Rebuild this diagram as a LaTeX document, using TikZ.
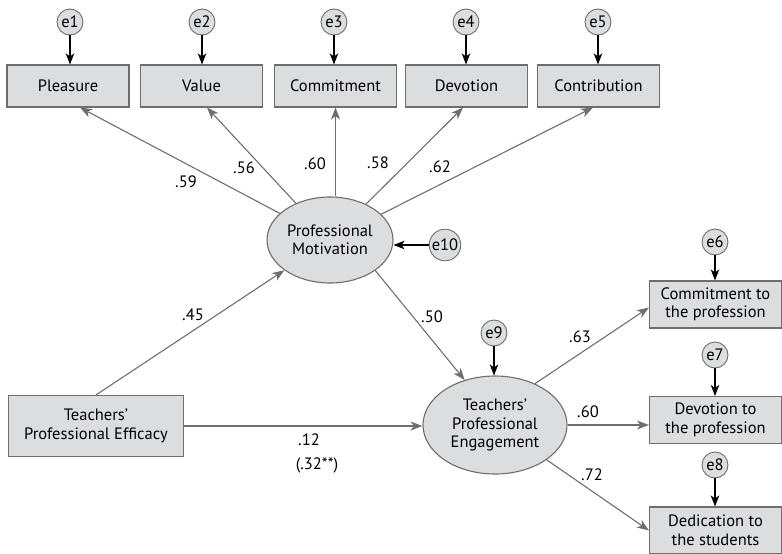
\documentclass[tikz,border=0pt]{standalone}
\usepackage{fontspec}
\setmainfont{PT Sans}
\usetikzlibrary{arrows.meta,shapes.geometric}
\definecolor{boxfill}{HTML}{DCDDDF}
\definecolor{edgecol}{HTML}{6E6E6E}
\begin{document}
\begin{tikzpicture}[x=1pt,y=-1pt,
  every node/.style={font=\fontsize{16.5}{18.5}\selectfont},
  obs/.style={draw=edgecol, fill=boxfill, line width=1.1pt, minimum width=122pt, minimum height=42pt, inner sep=0pt, align=center},
  lat/.style={ellipse, draw=edgecol, fill=boxfill, line width=1.1pt, inner sep=0pt, align=center},
  err/.style={circle, draw=edgecol, fill=boxfill, line width=0.9pt, minimum size=26pt, inner sep=1pt},
  conn/.style={draw=edgecol, line width=1.1pt, -{Stealth[length=12pt,width=9pt,inset=3.5pt]}},
  errarr/.style={draw=black, line width=1.1pt, -{Stealth[length=11pt,width=8.5pt,inset=3pt]}},
  lab/.style={inner sep=0pt}
]
\useasboundingbox (0,0) rectangle (782,554);

% top indicators
\node[obs] (pleasure) at (68,86) {Pleasure};
\node[obs] (value) at (201.5,86) {Value};
\node[obs] (commit) at (335.5,86) {Commitment};
\node[obs] (devot) at (466.5,86) {Devotion};
\node[obs] (contrib) at (598.5,86) {Contribution};

\node[err] (e1) at (70,22) {e1};
\node[err] (e2) at (202,22) {e2};
\node[err] (e3) at (334,22) {e3};
\node[err] (e4) at (466,22) {e4};
\node[err] (e5) at (598,22) {e5};

% latent variables
\node[lat, minimum width=126pt, minimum height=86pt] (PM) at (330,240) {Professional\\Motivation};
\node[lat, minimum width=144pt, minimum height=98pt] (TPE) at (495,425) {Teachers’\\Professional\\Engagement};
\node[err] (e10) at (445,245) {e10};
\node[err] (e9) at (494,333) {e9};

% exogenous
\node[obs, minimum width=175pt, minimum height=61pt] (TPEff) at (96,426) {Teachers’\\Professional Efficacy};

% right indicators
\node[obs, minimum width=132pt, minimum height=47pt] (cmt2) at (715.5,304.5) {Commitment to\\the profession};
\node[obs, minimum width=132pt, minimum height=47pt] (dev2) at (715.5,420) {Devotion to\\the profession};
\node[obs, minimum width=132pt, minimum height=47pt] (ded) at (715.5,530.5) {Dedication to\\the students};

\node[err] (e6) at (715,242) {e6};
\node[err] (e7) at (715,355) {e7};
\node[err] (e8) at (715,465) {e8};

% error arrows
\draw[errarr] (e1) -- (e1 |- pleasure.north);
\draw[errarr] (e2) -- (e2 |- value.north);
\draw[errarr] (e3) -- (e3 |- commit.north);
\draw[errarr] (e4) -- (e4 |- devot.north);
\draw[errarr] (e5) -- (e5 |- contrib.north);
\draw[errarr] (e10) -- (e10 -| PM.east);
\draw[errarr] (e9) -- (e9 |- TPE.north);
\draw[errarr] (e6) -- (e6 |- cmt2.north);
\draw[errarr] (e7) -- (e7 |- dev2.north);
\draw[errarr] (e8) -- (e8 |- ded.north);

% structural paths
\draw[conn] (PM) -- ([xshift=12pt]pleasure.south);
\draw[conn] (PM) -- ([xshift=5.5pt]value.south);
\draw[conn] (commit.south |- PM.north) -- (commit.south);
\draw[conn] (PM) -- ([xshift=-3.5pt]devot.south);
\draw[conn] (PM) -- ([xshift=-5.5pt]contrib.south);

\draw[conn] (TPEff.north) -- (PM);
\draw[conn] (PM.-34) -- (TPE.124);
\draw[conn] (TPEff.east) -- (TPEff.east -| TPE.west);
\draw[conn] (TPE.46) -- ([yshift=-3pt]cmt2.west);
\draw[conn] (TPE.east) -- (TPE.east -| dev2.west);
\draw[conn] (TPE.-34) -- (ded.west);

% coefficients
\node[lab] (l59) at (186,182) {.59};
\node[lab] (l56) at (244,168) {.56};
\node[lab] (l60a) at (315,164) {.60};
\node[lab] (l58) at (378,163) {.58};
\node[lab] (l62) at (440,167) {.62};
\node[lab] (l45) at (193,315) {.45};
\node[lab] (l50) at (432,317) {.50};
\node[lab] (l63) at (580,337) {.63};
\node[lab] (l60b) at (588,412) {.60};
\node[lab] (l72) at (592,475) {.72};
\node[lab] (l12) at (309,440) {.12};
\node[lab] (l32) at (317,465) {(.32**)};
\end{tikzpicture}
\end{document}
